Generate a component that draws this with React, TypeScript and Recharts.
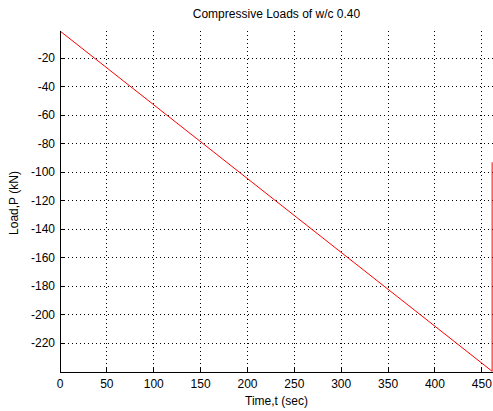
import { LineChart, Line, XAxis, YAxis, CartesianGrid } from "recharts";

// time (sec) and load (kN)
const time = [0, 461, 461];
const load = [-1, -239.5, -93];

const xTicks = [0, 50, 100, 150, 200, 250, 300, 350, 400, 450];
const yTicks = [-220, -200, -180, -160, -140, -120, -100, -80, -60, -40, -20];

const data = time.map((t, i) => ({ time: t, load: load[i] }));

const FONT = "Arial, 'Liberation Sans', sans-serif";

const BottomTick = ({ x, y, payload }: any) => (
  <g>
    <line className="tm" x1={x} y1={y} x2={x} y2={y - 5} stroke="#000" />
    <text x={x} y={y + 16} textAnchor="middle" fontSize={12} fill="#000" fontFamily={FONT}>
      {payload.value}
    </text>
  </g>
);

const LeftTick = ({ x, y, payload }: any) => (
  <g>
    <line className="tm" x1={x} y1={y} x2={x + 5} y2={y} stroke="#000" />
    <text x={x - 5} y={y + 4} textAnchor="end" fontSize={12} fill="#000" fontFamily={FONT}>
      {payload.value}
    </text>
  </g>
);

const TopTick = ({ x, y }: any) => (
  <line className="tm" x1={x} y1={y} x2={x} y2={y + 5} stroke="#000" />
);

const RightTick = ({ x, y }: any) => (
  <line className="tm" x1={x} y1={y} x2={x - 5} y2={y} stroke="#000" />
);

export default function App() {
  return (
    <div
      style={{
        position: "absolute",
        left: 0,
        top: 0,
        width: 493,
        height: 411,
        background: "#fff",
        overflow: "hidden",
        fontFamily: FONT,
      }}
    >
      <style>{`.recharts-cartesian-axis-line, .recharts-cartesian-grid line, .tm { shape-rendering: crispEdges; }`}</style>
      <div
        style={{
          position: "absolute",
          left: 60,
          width: 433,
          top: 6,
          textAlign: "center",
          fontSize: 12,
          lineHeight: "16px",
        }}
      >
        Compressive Loads of w/c 0.40
      </div>
      <div
        style={{
          position: "absolute",
          left: 60,
          width: 433,
          top: 393,
          textAlign: "center",
          fontSize: 12,
          lineHeight: "16px",
        }}
      >
        Time,t (sec)
      </div>
      <div
        style={{
          position: "absolute",
          left: 14,
          top: 203,
          fontSize: 12,
          lineHeight: "16px",
          whiteSpace: "nowrap",
          transform: "translate(-50%, -50%) rotate(-90deg)",
        }}
      >
        Load,P (kN)
      </div>
      <LineChart
        width={494}
        height={411}
        data={data}
        margin={{ top: 31, right: 0, bottom: 0, left: 0 }}
      >
        <CartesianGrid stroke="#000" strokeDasharray="1 3" syncWithTicks />
        <XAxis
          dataKey="time"
          type="number"
          domain={[0, 463]}
          ticks={xTicks}
          height={39}
          tickSize={0}
          tickMargin={0}
          tickLine={false}
          axisLine={{ stroke: "#000" }}
          tick={BottomTick}
          interval={0}
        />
        <XAxis
          xAxisId="top"
          orientation="top"
          dataKey="time"
          type="number"
          domain={[0, 463]}
          ticks={xTicks}
          height={0}
          tickSize={0}
          tickMargin={0}
          tickLine={false}
          axisLine={{ stroke: "#000" }}
          tick={TopTick}
          interval={0}
        />
        <YAxis
          dataKey="load"
          type="number"
          domain={[-240, -1]}
          ticks={yTicks}
          width={60}
          tickSize={0}
          tickMargin={0}
          tickLine={false}
          axisLine={{ stroke: "#000" }}
          tick={LeftTick}
          interval={0}
        />
        <YAxis
          yAxisId="right"
          orientation="right"
          dataKey="load"
          type="number"
          domain={[-240, -1]}
          ticks={yTicks}
          width={0}
          tickSize={0}
          tickMargin={0}
          tickLine={false}
          axisLine={{ stroke: "#000" }}
          tick={RightTick}
          interval={0}
        />
        <Line
          type="linear"
          dataKey="load"
          stroke="#ff0000"
          strokeWidth={1}
          dot={false}
          isAnimationActive={false}
        />
      </LineChart>
    </div>
  );
}
